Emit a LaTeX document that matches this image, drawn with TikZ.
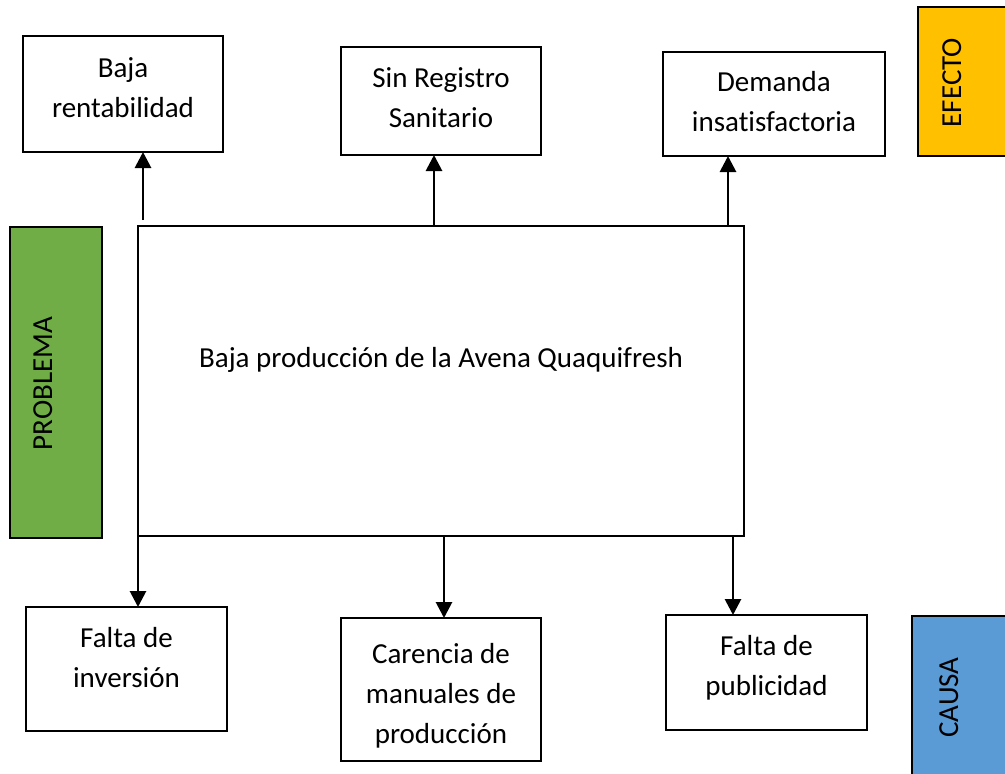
\documentclass[tikz,border=0pt]{standalone}
\usepackage{fontspec}
\setmainfont{Carlito}[Ligatures=NoCommon]
\usetikzlibrary{arrows.meta}
\begin{document}
\begin{tikzpicture}[x=1pt,y=-1pt,
  box/.style={draw=black,line width=2.8pt,fill=white,inner sep=0pt,outer sep=0pt,anchor=north west},
  lbl/.style={font=\fontsize{29}{40}\selectfont,align=center,anchor=base,inner sep=0pt},
  vlbl/.style={font=\fontsize{29}{35}\selectfont,rotate=90,anchor=base,inner sep=0pt},
  arr/.style={line width=2.8pt,-{Triangle[width=16pt,length=16pt]}}]
\useasboundingbox (0,0) rectangle (1005,774);
\definecolor{cgreen}{HTML}{70AD47}
\definecolor{cyellow}{HTML}{FFC000}
\definecolor{cblue}{HTML}{5B9BD5}
% side tags
\begin{scope}
\clip (0,0) rectangle (1005,774);
\node[box,fill=cyellow,minimum width=120pt,minimum height=149pt] (efecto) at (918,7) {};
\node[box,fill=cblue,minimum width=120pt,minimum height=200pt] (causa) at (912,616) {};
\end{scope}
\node[box,fill=cgreen,minimum width=92pt,minimum height=311pt] (problema) at (10,227) {};
\node[vlbl] (tefecto) at (961,82.5) {EFECTO};
\node[vlbl] (tcausa) at (958,697.5) {CAUSA};
\node[vlbl] (tproblema) at (52,383.5) {PROBLEMA};
% main box
\node[box,minimum width=606pt,minimum height=310pt] (main) at (138,226) {};
\node[lbl] (tmain) at (441,367) {Baja producción de la Avena Quaquifresh};
% effect boxes
\node[box,minimum width=200pt,minimum height=116pt] (e1) at (23,36) {};
\node[box,minimum width=200pt,minimum height=108pt] (e2) at (341,47) {};
\node[box,minimum width=222pt,minimum height=104pt] (e3) at (663,52) {};
\node[lbl] (te1) at (123,117) {Baja\\rentabilidad};
\node[lbl] (te2) at (441,127) {Sin Registro\\Sanitario};
\node[lbl] (te3) at (774,131) {Demanda\\insatisfactoria};
% cause boxes
\node[box,minimum width=201pt,minimum height=124pt] (c1) at (26,607) {};
\node[box,minimum width=200pt,minimum height=143pt] (c2) at (341,618) {};
\node[box,minimum width=201pt,minimum height=115pt] (c3) at (666,615) {};
\node[lbl] (tc1) at (126.5,687) {Falta de\\inversión};
\node[lbl] (tc2) at (441,743) {Carencia de\\manuales de\\producción};
\node[lbl] (tc3) at (766.5,695) {Falta de\\publicidad};
% connectors
\coordinate (s1) at (143,220);
\coordinate (s2) at (434,226);
\coordinate (s3) at (728,226);
\coordinate (d1) at (138,536);
\coordinate (d2) at (444,536);
\coordinate (d3) at (733,536);
\draw[arr] (s1) -- (s1 |- e1.south);
\draw[arr] (s2) -- (s2 |- e2.south);
\draw[arr] (s3) -- (s3 |- e3.south);
\draw[arr] (d1) -- (d1 |- c1.north);
\draw[arr] (d2) -- (d2 |- c2.north);
\draw[arr] (d3) -- (d3 |- c3.north);
\end{tikzpicture}
\end{document}
